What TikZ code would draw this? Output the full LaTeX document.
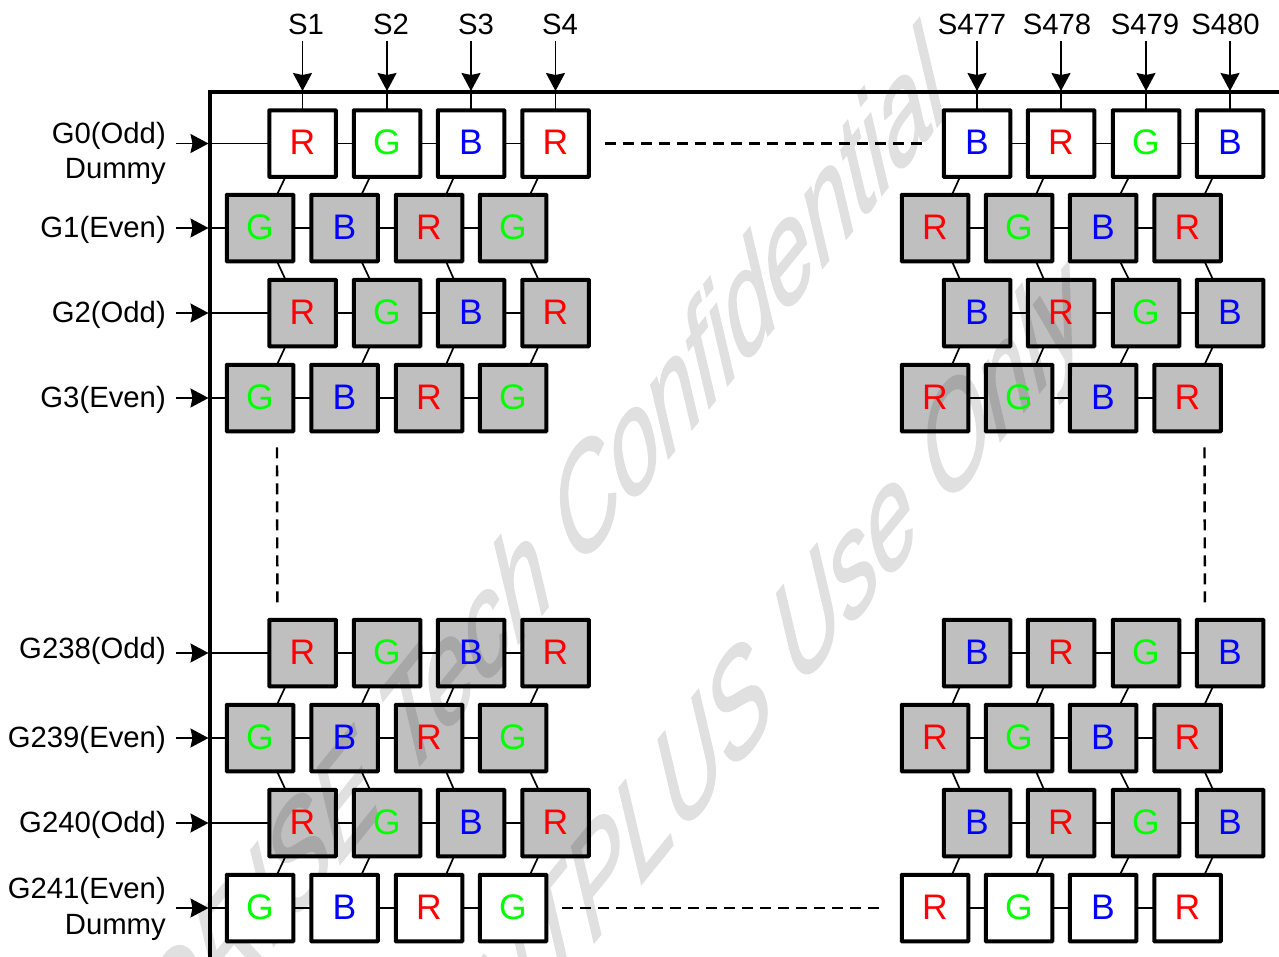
\documentclass[tikz,border=0pt]{standalone}
\usepackage{fontspec}
\setmainfont{Liberation Sans}
\newfontfamily\stampfont[FakeBold=1.5]{Liberation Sans}
\usetikzlibrary{arrows.meta}
\definecolor{stampgray}{HTML}{E0E0E0}
\tikzset{
  >={Stealth[length=18pt,width=19pt,inset=2pt]},
}
\tikzstyle{every node}=[inner sep=0pt,font=\fontsize{29.3}{35}\selectfont]
\tikzstyle{pixel}=[draw,line width=4pt,minimum size=66.5pt,outer sep=0pt,
  text height=25.5pt,text depth=3pt,rounded corners=.5pt,font=\fontsize{35.5}{40}\selectfont]
\tikzstyle{litcell}=[fill=white]
\tikzstyle{darkcell}=[fill=black,fill opacity=.25,text opacity=1,draw opacity=1]
\tikzstyle{wire}=[line width=1.7pt]
\tikzstyle{gapline}=[line width=2.4pt,dash pattern=on 11pt off 7pt,shorten <=16pt,shorten >=17pt]
\tikzstyle{stamp}=[anchor=base east,rotate=51,xslant=.58,text=stampgray,
  font=\fontsize{113}{120}\stampfont\itshape]
\begin{document}
\begin{tikzpicture}[x=1pt,y=-1pt]
        \clip (0,0) rectangle (1279,956);
        \node[stamp] (conf) at (952,108) {ORISE Tech Confidential};
        \node[stamp] (only) at (1090,330) {NTPLUS Use Only};
        \draw[line width=4pt] (210,92) rectangle (1280.5,1000);
        \foreach \r/\y/\shade in {0/143.5/litcell,2/313/darkcell,4/653/darkcell,6/823/darkcell}
          \foreach \c/\x/\ch/\col in {1/302.5/R/red,2/387/G/green,3/471/B/blue,4/555.5/R/red,
            5/977/B/blue,6/1061/R/red,7/1146/G/green,8/1230/B/blue}
            \node[pixel,\shade,text=\col] (r\r-\c) at (\x,\y) {\ch};
        \foreach \r/\y/\shade in {1/228/darkcell,3/398/darkcell,5/738/darkcell,7/908/litcell}
          \foreach \c/\x/\ch/\col in {1/260/G/green,2/344.5/B/blue,3/429/R/red,4/513/G/green,
            5/935/R/red,6/1019/G/green,7/1103/B/blue,8/1187.5/R/red}
            \node[pixel,\shade,text=\col] (r\r-\c) at (\x,\y) {\ch};
        \foreach \a/\b in {1/2,2/3,3/4,5/6,6/7,7/8}
          \foreach \r in {0,...,7}
            \draw[wire] (r\r-\a)--(r\r-\b);
        \foreach \c in {1,...,8} {
          \foreach \t/\u in {0/1,2/3,4/5,6/7}
            \draw[wire] (r\t-\c.243)--(r\u-\c.63);
          \foreach \t/\u in {1/2,5/6}
            \draw[wire] (r\t-\c.297)--(r\u-\c.117);
        }
        \foreach \c/\x/\lx/\txt in {1/302.5/306/S1,2/387/391/S2,3/471/476/S3,4/555.5/560/S4,
          5/977/972/S477,6/1061/1057/S478,7/1146/1145/S479,8/1230/1225.5/S480} {
          \node[anchor=base] (s\c) at (\lx,34) {\txt};
          \coordinate (s\c top) at (\x,41);
          \coordinate (s\c in) at (\x,91);
          \draw[wire,->] (s\c top)--(s\c in);
          \draw[wire] (s\c in)--(r0-\c);
        }
        \foreach \r/\y in {0/143.5,1/228,2/313,3/398,4/653,5/738,6/823,7/908} {
          \coordinate (g\r top) at (176,\y);
          \coordinate (g\r in) at (208.5,\y);
          \draw[wire,->] (g\r top)--(g\r in);
          \draw[wire] (g\r in)--(r\r-1);
        }
        \node[anchor=base east] (g0a) at (166,143) {G0(Odd)};
        \node[anchor=base east] (g0b) at (166,178) {Dummy};
        \node[anchor=base east] (g1) at (166,237) {G1(Even)};
        \node[anchor=base east] (g2) at (166,322) {G2(Odd)};
        \node[anchor=base east] (g3) at (166,407) {G3(Even)};
        \node[anchor=base east] (g4) at (166,658) {G238(Odd)};
        \node[anchor=base east] (g5) at (166,747) {G239(Even)};
        \node[anchor=base east] (g6) at (166,832) {G240(Odd)};
        \node[anchor=base east] (g7a) at (166,898) {G241(Even)};
        \node[anchor=base east] (g7b) at (166,934) {Dummy};
        \draw[gapline] (r0-4)--(r0-5);
        \draw[gapline] (r7-4)--(r7-5);
        \draw[gapline] (r3-1.297)--(r4-1.127.3);
        \draw[gapline] (r3-8.297)--(r4-8.127.3);
      \end{tikzpicture}
\end{document}
